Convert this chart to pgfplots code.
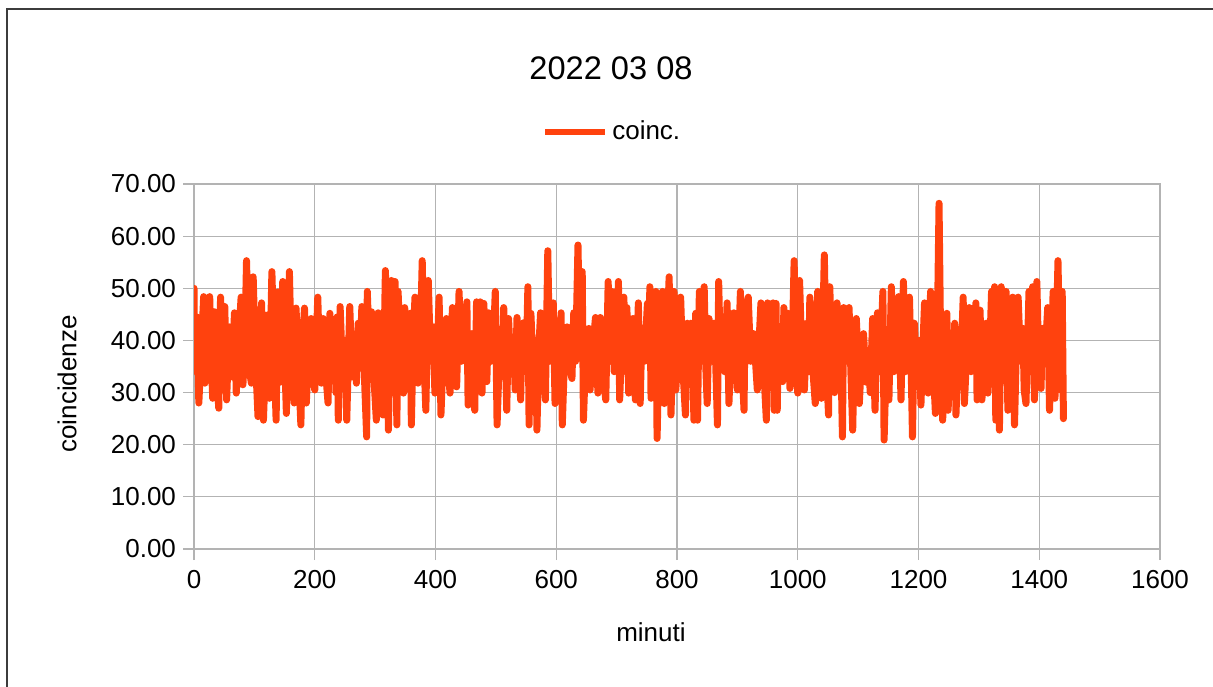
\documentclass[border=0pt]{standalone}
\usepackage{fontspec}
\setmainfont{Liberation Sans}
\usepackage{pgfplots}
\pgfplotsset{compat=1.18}
\usepackage{pgfplotstable}
\definecolor{series}{HTML}{FF420E}
\definecolor{gridc}{HTML}{B3B3B3}
\definecolor{framec}{HTML}{3C3C3C}

\pgfplotstableread{
min val
0 50
1 36
3 34
5 44.5
8 28
12 38
16 48.4
18 31.8
22 40
26 48.4
29 35
31 28.9
34 45.5
38 33
41 27
44 48.3
48 34
51 46.5
54 28.6
57 38
59 42.6
63 33
67 45.3
70 29.9
74 40
78 48.3
81 31.5
84 38
87 55.3
91 35
95 31.8
98 52.2
102 36
106 25.4
110 40
112 47.2
115 24.7
119 38
122 44.9
125 28.9
129 53.2
133 36
136 24.7
139 49.3
143 32
147 51.3
150 38
153 26
156 40
158 53.2
162 33
166 28
169 46.2
173 35
177 23.8
180 40
183 46.2
186 28
190 38
194 44.2
197 34
200 30.5
205 48.3
208 36
211 31.8
214 44.2
218 34
222 28
225 45.2
229 36
233 44
235 30
237 44.5
239 24.7
242 46.5
246 34
250 40
253 24.7
256 38
258 46.5
262 33
266 40
269 31.8
272 43.3
275 35
278 46.5
282 34
286 21.5
287 49.4
291 36
294 45.5
298 33
302 24.7
305 45.3
309 36
313 25.7
317 53.4
320 38
322 22.8
325 42
327 51.5
330 36
333 51.3
336 23.8
338 49.4
342 38
347 29.9
349 46.3
353 36
358 45.2
360 23.8
363 40
366 48.3
369 36
371 31.8
375 40
378 55.3
381 36
384 26.6
388 51.5
392 36
396 42.6
399 29.9
403 38
406 48.3
409 25.7
413 38
418 44.2
421 35
424 29.9
428 46.3
431 36
435 31.1
439 49.4
443 36
447 40
452 47.4
454 27.6
457 38
460 41.3
465 26.6
468 47.4
472 36
474 47.4
477 29.9
480 47.1
485 32.1
488 45.3
492 36
496 40
499 49.4
502 23.8
506 38
510 34
513 46.3
516 36
518 26.6
521 44.2
525 34
529 40
532 30.5
535 44.4
538 36
541 28.6
543 40
546 43.4
550 34
553 50.3
555 23.8
558 45.2
562 34
566 40
568 22.8
571 38
574 45.3
578 35
582 28.6
586 57.2
589 36
592 40
595 47.2
598 27.9
602 38
605 34
608 45.3
610 23.8
614 38
618 42.6
622 35
626 32.7
629 45.3
632 36
636 58.3
639 38
643 53.2
645 24.7
649 38
654 42.3
656 30.5
660 38
665 44.4
669 29.9
673 44.4
677 34
682 28.6
686 51.3
689 36
692 49.4
696 34
700 40
703 51.3
705 28.6
708 38
712 48.3
715 34
717 46.3
720 29.9
724 41.3
727 44.2
731 28.6
736 47.2
739 27.9
742 42.3
746 36
751 47.1
753 36
755 50.3
757 28.9
761 40
765 49.4
767 21.2
770 38
773 34
776 49.4
779 27.9
783 40
787 52.2
790 25.7
793 38
795 49.4
798 30.5
802 38
806 48.3
810 34
814 25.7
817 43.3
820 34
823 43.3
826 36
828 24.7
831 45.2
834 24.7
837 49.4
841 36
845 50.3
848 34
850 27.9
853 44.2
857 36
861 43.3
864 36
867 23.8
869 51.3
872 36
875 43.3
879 34
883 47.2
886 27.9
890 40
894 45.3
897 36
900 30.5
905 49.4
908 34
911 26.6
913 47.4
916 36
918 48.3
922 36
927 41.3
930 36
933 30.5
936 40
939 47.2
943 36
948 24.7
950 47.2
954 36
959 47.2
961 26.6
964 47.1
966 26.6
968 42.3
972 34
975 32.1
977 46.3
981 36
984 45.2
987 30.8
991 40
994 55.3
997 36
1000 29.9
1003 51.5
1007 36
1011 30.5
1015 43.3
1018 34
1020 48.3
1024 36
1029 27.9
1033 49.4
1036 36
1039 28.9
1044 56.4
1047 36
1051 25.7
1053 50.3
1057 36
1061 30
1065 47.2
1068 34
1071 40
1074 21.5
1076 46.3
1080 36
1085 46.3
1088 34
1091 22.8
1094 40
1097 44.2
1100 36
1102 27.9
1106 38
1109 41.3
1113 32
1117 38
1120 30
1124 44.2
1128 26.6
1132 45.3
1136 34
1141 49.4
1143 20.9
1147 38
1151 28.6
1155 50.3
1159 34
1163 40
1167 48.4
1171 28.6
1175 51.3
1178 34
1182 38
1185 48.3
1188 34
1190 21.5
1193 43.3
1197 34
1201 40
1204 27.6
1207 38
1210 47.2
1213 36
1216 29.9
1220 49.4
1224 36
1228 26
1231 40
1234 66.3
1237 36
1240 24.7
1244 38
1247 45.2
1249 26.6
1253 38
1257 34
1260 43.3
1262 25.7
1266 38
1270 34
1274 48.3
1276 27.9
1280 38
1284 46.3
1287 34
1291 38
1295 47.2
1297 28.6
1300 36
1302 45.8
1305 28.6
1309 38
1312 43.3
1315 29.9
1318 38
1321 49.4
1324 36
1326 50.3
1328 24.7
1331 38
1334 22.8
1337 50.3
1341 36
1345 49.4
1348 26.6
1352 38
1356 48.3
1359 23.8
1362 38
1365 48.3
1369 36
1373 42.3
1375 30.5
1378 27.9
1383 49.4
1386 36
1389 50.3
1392 28.6
1396 51.3
1399 36
1403 30.8
1405 42.3
1409 36
1414 46.3
1417 26.6
1420 38
1423 49.4
1426 28.9
1431 55.3
1435 30.5
1438 49.4
1440 25
}\coinc

\begin{document}
\begin{tikzpicture}
\useasboundingbox (0pt,0pt) rectangle (606.5pt,343pt);
\draw[framec, line width=0.8pt] (3.5pt,-3pt) -- (3.5pt,338.5pt) -- (610pt,338.5pt);
\node[font=\fontsize{16.3}{19}\selectfont] at (305.5pt,309pt) {2022 03 08};
\begin{axis}[
  at={(97pt,68.5pt)}, anchor=south west,
  scale only axis, width=483pt, height=182.5pt,
  xmin=0, xmax=1600, ymin=0, ymax=70,
  xtick={0,200,...,1600}, ytick={0,10,...,70},
  grid=major, grid style={gridc, line width=0.6pt},
  axis line style={gridc, line width=0.6pt},
  tick style={gridc, line width=0.6pt},
  tick align=outside, major tick length=5.5pt,
  xtick pos=bottom, ytick pos=left,
  /pgf/number format/assume math mode=true,
  /pgf/number format/1000 sep={},
  tick label style={font=\fontsize{13}{15}\selectfont, black},
  yticklabel style={/pgf/number format/fixed, /pgf/number format/fixed zerofill, /pgf/number format/precision=2},
  xticklabel style={yshift=-1.5pt},
  label style={font=\fontsize{13}{15}\selectfont},
  xlabel={minuti}, ylabel={coincidenze},
  xlabel style={at={(axis description cs:0.473,-0.2274)}, anchor=center},
  ylabel style={at={(axis description cs:-0.1315,0.452)}, anchor=center},
  legend style={at={(axis description cs:0.434,1.1425)}, anchor=center, draw=none, fill=none,
    font=\fontsize{13}{15}\selectfont, inner sep=0pt},
  legend image code/.code={\draw[line width=3pt, line cap=butt] (0pt,0pt) -- (30pt,0pt);},
]
\addplot[series, line width=3.5pt, line join=round, line cap=round] table[x=min, y=val] {\coinc};
\addlegendentry{coinc.}
\end{axis}
\end{tikzpicture}
\end{document}
